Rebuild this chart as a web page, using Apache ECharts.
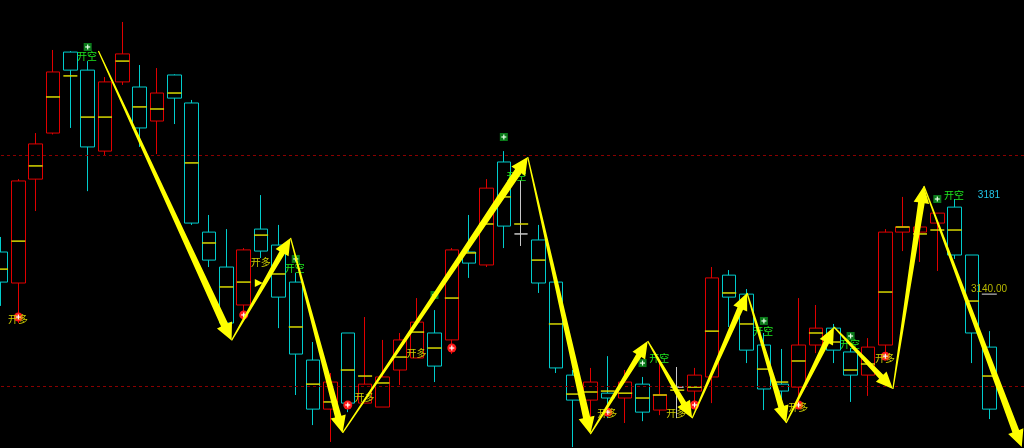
<!DOCTYPE html>
<html>
<head>
<meta charset="utf-8">
<style>
  html, body { margin: 0; padding: 0; background: #000; }
  #chart { width: 1024px; height: 448px; }
</style>
<script src="https://cdn.jsdelivr.net/npm/echarts@6/dist/echarts.min.js"></script>
</head>
<body>
<div id="chart"></div>
<script>
// K线 (58根) - 价格从截图读出
const categories = Array.from({ length: 60 }, (_, i) => String(i + 1));

const openP = [
  3158.2, 3144.8, 3189.7, 3209.6, 3244.6, 3236.8, 3201.8, 3231.7, 3229.5, 3214.8,
  3234.7, 3222.6, 3166.8, 3151.7, 3135.3, 3168.1, 3161.2, 3145.2, 3111.5, 3090.3,
  3123.2, 3092.9, 3091.2, 3107.2, 3112.4, 3123.2, 3120.2, 3158.2, 3152.6, 3197.1,
  3166.0, 3163.4, 3145.2, 3105.0, 3094.2, 3097.2, 3095.1, 3101.1, 3089.9, 3099.8,
  3098.1, 3104.2, 3148.2, 3140.0, 3118.0, 3101.1, 3099.8, 3118.0, 3125.3, 3115.0,
  3105.0, 3118.0, 3166.8, 3166.8, 3170.7, 3177.6, 3156.9, 3117.1
];
const closeP = [
  3145.2, 3188.9, 3204.9, 3236.0, 3236.8, 3203.6, 3231.7, 3243.8, 3211.8, 3226.9,
  3224.7, 3170.7, 3154.7, 3127.5, 3159.1, 3158.6, 3138.7, 3114.1, 3090.3, 3102.0,
  3092.9, 3101.1, 3104.2, 3120.2, 3127.9, 3108.9, 3159.1, 3153.4, 3185.8, 3169.4,
  3166.0, 3144.8, 3108.1, 3094.2, 3102.0, 3095.1, 3102.0, 3089.0, 3096.4, 3099.8,
  3105.0, 3147.0, 3138.7, 3115.8, 3099.0, 3098.1, 3118.0, 3125.3, 3115.8, 3105.0,
  3117.1, 3166.8, 3169.0, 3169.0, 3175.0, 3156.9, 3123.2, 3090.3
];
const lowP = [
  3134.9, 3127.5, 3175.9, 3209.0, 3211.8, 3184.5, 3199.7, 3230.4, 3203.6, 3200.5,
  3213.5, 3169.9, 3151.7, 3127.0, 3130.1, 3155.6, 3125.3, 3096.4, 3083.4, 3076.1,
  3089.0, 3092.9, 3091.2, 3100.7, 3112.4, 3102.0, 3114.1, 3147.0, 3151.7, 3159.9,
  3160.8, 3140.5, 3105.9, 3073.9, 3086.9, 3086.4, 3084.3, 3085.1, 3087.7, 3086.4,
  3091.2, 3092.9, 3125.8, 3110.2, 3089.9, 3088.6, 3093.4, 3114.5, 3110.2, 3093.4,
  3096.0, 3111.5, 3158.6, 3153.9, 3150.0, 3155.2, 3110.2, 3086.0
];
const highP = [
  3164.7, 3189.7, 3209.6, 3245.5, 3245.0, 3240.7, 3233.8, 3257.6, 3239.0, 3237.7,
  3235.0, 3223.9, 3174.2, 3168.1, 3159.9, 3182.8, 3169.9, 3149.1, 3119.3, 3105.9,
  3123.2, 3130.1, 3120.2, 3123.2, 3138.3, 3133.1, 3159.9, 3174.2, 3189.7, 3201.8,
  3189.3, 3169.9, 3145.2, 3107.2, 3108.1, 3113.2, 3107.2, 3104.2, 3111.5, 3108.5,
  3108.1, 3151.7, 3150.4, 3142.2, 3123.2, 3116.3, 3138.3, 3135.3, 3127.1, 3116.7,
  3121.0, 3168.1, 3182.0, 3169.0, 3175.0, 3181.1, 3156.9, 3124.0
];
// 每根K线上的黄色均价线
const midP = [
  3150.8, 3162.9, 3195.4, 3225.2, 3234.3, 3216.5, 3216.5, 3240.7, 3220.9, 3220.0,
  3226.9, 3196.7, 3162.1, 3143.1, 3145.2, 3165.5, 3148.7, 3125.8, 3101.1, 3093.4,
  3107.2, 3104.6, 3101.6, 3112.8, 3123.6, 3116.7, 3138.3, 3157.8, 3170.3, 3182.0,
  3170.3, 3154.7, 3127.1, 3096.8, 3097.7, 3098.1, 3097.2, 3095.1, 3096.4, 3098.5,
  3099.8, 3124.0, 3140.5, 3127.1, 3107.6, 3102.0, 3111.1, 3123.2, 3119.3, 3107.2,
  3109.8, 3140.9, 3169.0, 3166.0, 3167.7, 3167.7, 3137.0, 3104.6
];

// 之字形箭头的转折点 (x = K线序号, 可为小数)
const zigX = [5.62, 13.3, 16.7, 19.7, 30.38, 33.99, 37.3, 39.86, 43.03, 45.28, 48.04, 51.44, 53.23, 58.87];
const zigY = [3245.1, 3120.0, 3164.3, 3080.0, 3199.2, 3079.5, 3119.7, 3086.4, 3140.5, 3084.3, 3125.8, 3099.0, 3186.7, 3073.9];

// 信号点: 红色=开多, 绿色=开空
const buyMarkX = [1, 14, 20, 26, 35, 40, 46, 51];
const buyMarkY = [3130.1, 3131.0, 3092.1, 3116.7, 3089.0, 3092.1, 3092.1, 3113.2];
const sellMarkX = [5, 17, 25, 29, 37, 44, 49, 54];
const sellMarkY = [3246.8, 3155.2, 3139.6, 3207.9, 3110.2, 3128.4, 3121.9, 3181.1];

// 文字标注位置
const longTextX = [0.98, 14.98, 20.97, 23.97, 34.97, 38.95, 45.98, 50.99];
const longTextY = [3129.2, 3153.9, 3095.5, 3114.5, 3088.6, 3088.6, 3091.2, 3112.4];
const shortTextX = [4.96, 16.94, 29.73, 37.97, 43.96, 48.97, 54.97];
const shortTextY = [3242.9, 3151.3, 3191.0, 3112.4, 3124.0, 3118.4, 3182.8];

const priceTags = [
  { x: 56.98, y: 3182.8, text: "3181", color: "#22c4e6" },
  { x: 56.98, y: 3142.2, text: "3140.00", color: "#b8b800" }
];
const lastPriceMark = [57, 3140.0];
const smallHead = [14.81, 3144.8];

const refLines = [3200, 3100];

const chart = echarts.init(document.getElementById("chart"));

const kData = openP.map((o, i) => [o, closeP[i], lowP[i], highP[i]]);
const segs = [];
for (let i = 0; i < zigX.length - 1; i++) segs.push([zigX[i], zigY[i], zigX[i + 1], zigY[i + 1]]);

const option = {
  backgroundColor: "#000",
  animation: false,
  grid: { left: 1, right: -1, top: 0, bottom: 0 },
  xAxis: [
    { type: "category", data: categories, boundaryGap: false, show: false },
    { type: "value", min: 0, max: 59, show: false }
  ],
  yAxis: { type: "value", min: 3073.5, max: 3267.1, show: false, splitLine: { show: false } },
  series: [
    {
      type: "candlestick",
      data: kData,
      barWidth: 14,
      z: 2,
      itemStyle: {
        color: "#000", color0: "#000",
        borderColor: "#e00000", borderColor0: "#00cccc",
        borderColorDoji: "#c8c8c8", borderWidth: 1
      },
      markLine: {
        silent: true, symbol: ["none", "none"], label: { show: false },
        lineStyle: { color: "#8a0000", type: [3, 3], width: 1 },
        data: refLines.map(v => ({ yAxis: v }))
      }
    },
    {
      // 黄色均价短线
      type: "custom", z: 3,
      data: midP.map((v, i) => [i, v]),
      renderItem: (params, api) => {
        const p = api.coord([api.value(0), api.value(1)]);
        return {
          type: "line",
          shape: { x1: p[0] - 7, y1: p[1], x2: p[0] + 7, y2: p[1] },
          style: { stroke: "#d8d800", lineWidth: 1.5 }
        };
      }
    },
    {
      // 红色开多点
      type: "custom", xAxisIndex: 1, z: 4,
      data: buyMarkX.map((x, i) => [x, buyMarkY[i]]),
      renderItem: (params, api) => {
        const p = api.coord([api.value(0), api.value(1)]);
        return {
          type: "group", children: [
            { type: "circle", shape: { cx: p[0], cy: p[1], r: 4.5 }, style: { fill: "#ff1a1a" } },
            { type: "line", shape: { x1: p[0] - 2.5, y1: p[1], x2: p[0] + 2.5, y2: p[1] }, style: { stroke: "#fff", lineWidth: 1.2 } },
            { type: "line", shape: { x1: p[0], y1: p[1] - 2.5, x2: p[0], y2: p[1] + 2.5 }, style: { stroke: "#fff", lineWidth: 1.2 } }
          ]
        };
      }
    },
    {
      // 绿色开空点
      type: "custom", xAxisIndex: 1, z: 4,
      data: sellMarkX.map((x, i) => [x, sellMarkY[i]]),
      renderItem: (params, api) => {
        const p = api.coord([api.value(0), api.value(1)]);
        return {
          type: "group", children: [
            { type: "rect", shape: { x: p[0] - 4, y: p[1] - 4, width: 8, height: 8 }, style: { fill: "#0a7a1a" } },
            { type: "line", shape: { x1: p[0] - 2.5, y1: p[1], x2: p[0] + 2.5, y2: p[1] }, style: { stroke: "#e8ffe8", lineWidth: 1.2 } },
            { type: "line", shape: { x1: p[0], y1: p[1] - 2.5, x2: p[0], y2: p[1] + 2.5 }, style: { stroke: "#e8ffe8", lineWidth: 1.2 } }
          ]
        };
      }
    },
    {
      // 文字: 开多 / 开空 / 价格
      type: "custom", xAxisIndex: 1, z: 5,
      data: [
        ...longTextX.map((x, i) => [x, longTextY[i], 0]),
        ...shortTextX.map((x, i) => [x, shortTextY[i], 1]),
        ...priceTags.map((t, i) => [t.x, t.y, 2 + i])
      ],
      renderItem: (params, api) => {
        const p = api.coord([api.value(0), api.value(1)]);
        const k = api.value(2);
        let text, fill;
        if (k === 0) { text = "开多"; fill = "#cccc00"; }
        else if (k === 1) { text = "开空"; fill = "#1ee81e"; }
        else { text = priceTags[k - 2].text; fill = priceTags[k - 2].color; }
        return {
          type: "text",
          style: {
            x: p[0], y: p[1], text, fill,
            font: k >= 2 ? "10px 'Liberation Sans', sans-serif" : "10px 'Noto Sans CJK SC', sans-serif",
            align: "center", verticalAlign: "middle"
          }
        };
      }
    },
    {
      // 白色现价短线 + 小箭头
      type: "custom", xAxisIndex: 1, z: 5,
      data: [[lastPriceMark[0], lastPriceMark[1], 0], [smallHead[0], smallHead[1], 1]],
      renderItem: (params, api) => {
        const p = api.coord([api.value(0), api.value(1)]);
        if (api.value(2) === 0) {
          return { type: "line", shape: { x1: p[0] - 7.5, y1: p[1], x2: p[0] + 7.5, y2: p[1] }, style: { stroke: "#e0e0e0", lineWidth: 1 } };
        }
        return {
          type: "polygon",
          shape: { points: [[p[0] - 3, p[1] - 4], [p[0] + 5, p[1]], [p[0] - 3, p[1] + 4]] },
          style: { fill: "#ffff00" }
        };
      }
    },
    {
      // 之字形黄色箭头
      type: "custom", xAxisIndex: 1, z: 6,
      data: segs,
      renderItem: (params, api) => {
        const a = api.coord([api.value(0), api.value(1)]);
        const b = api.coord([api.value(2), api.value(3)]);
        const dx = b[0] - a[0], dy = b[1] - a[1];
        const len = Math.sqrt(dx * dx + dy * dy);
        const ux = dx / len, uy = dy / len;
        const nx = -uy, ny = ux;
        const w0 = 0.6, w1 = 5 + len * 0.008;
        const headLen = 17, headHalf = w1 / 2 + 4.5;
        const bx = b[0] - ux * headLen, by = b[1] - uy * headLen;
        return {
          type: "polygon",
          shape: {
            points: [
              [a[0] + nx * w0, a[1] + ny * w0],
              [bx + nx * w1 / 2, by + ny * w1 / 2],
              [bx + nx * headHalf, by + ny * headHalf],
              [b[0], b[1]],
              [bx - nx * headHalf, by - ny * headHalf],
              [bx - nx * w1 / 2, by - ny * w1 / 2],
              [a[0] - nx * w0, a[1] - ny * w0]
            ]
          },
          style: { fill: "#ffff00" }
        };
      }
    }
  ]
};
chart.setOption(option);
</script>
</body>
</html>
